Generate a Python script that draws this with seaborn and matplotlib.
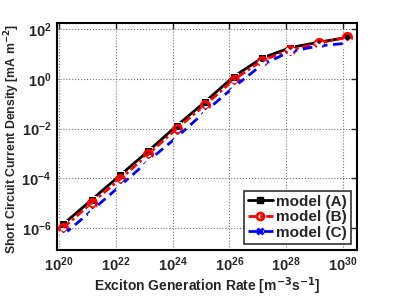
import numpy as np
import pandas as pd
import seaborn as sns
import matplotlib.pyplot as plt
from matplotlib.lines import Line2D

# exciton generation rate [m^-3 s^-1]
gen_rate = [1.4 * 10.0**k for k in range(20, 31)]

# short circuit current density [mA m^-2]
model_a = [1.4e-6, 1.35e-5, 1.3e-4, 1.25e-3, 1.3e-2, 1.2e-1, 1.23, 6.9, 18.2, 30.2, 46.8]
model_b = [1.0e-6, 1.0e-5, 9.1e-5, 9.3e-4, 1.0e-2, 8.9e-2, 0.91, 5.5, 14.8, 27.5, 47.9]
model_c = [5.2e-7, 4.9e-6, 4.9e-5, 5.0e-4, 4.5e-3, 4.8e-2, 0.46, 3.7, 12.6, 21.4, 27.5]

labels = ["model (A)", "model (B)", "model (C)"]

df = pd.concat([
    pd.DataFrame({"rate": gen_rate, "J": v, "model": lab})
    for v, lab in zip([model_a, model_b, model_c], labels)
])

sns.set_style("white")
plt.rcParams['font.family'] = ['Liberation Sans', 'DejaVu Sans']
plt.rcParams['font.weight'] = 'bold'
plt.rcParams['mathtext.default'] = 'bf'

fig = plt.figure(figsize=(3.95, 2.96), dpi=100)
ax = fig.add_axes([0.144, 0.155, 0.760, 0.767])

pal = {"model (A)": "black", "model (B)": "red", "model (C)": "blue"}
dashes = {"model (A)": "", "model (B)": (3, 1.2, 1, 1.2), "model (C)": (3.5, 2)}
markers = {"model (A)": "s", "model (B)": "o", "model (C)": "X"}

sns.lineplot(data=df, x="rate", y="J", hue="model", style="model",
             palette=pal, dashes=dashes, markers=markers, ax=ax,
             linewidth=2, markersize=6, legend=False)

# restyle markers: open red circle, thin cross
for line, lab in zip(ax.lines, labels):
    if lab == "model (B)":
        line.set_markerfacecolor("none")
        line.set_markeredgecolor("red")
        line.set_markeredgewidth(2)
    elif lab == "model (C)":
        line.set_marker("x")
        line.set_markeredgewidth(2)
        line.set_markersize(6)

ax.set_xscale("log")
ax.set_yscale("log")
ax.set_xlim(10**19.92, 10**30.5)
ax.set_ylim(10**-6.9, 10**2.25)
ax.set_xticks([10.0**k for k in range(20, 31, 2)])
ax.set_yticks([10.0**k for k in range(-6, 3, 2)])
ax.minorticks_off()
ax.grid(True, linestyle=":", color="0.45", linewidth=0.8)
ax.tick_params(direction="in", top=True, right=True, length=4, width=1,
               labelsize=10.5, pad=4)
for s in ax.spines.values():
    s.set_linewidth(1.5)
    s.set_color("black")

ax.set_xlabel(r"Exciton Generation Rate [m$^{-3}$s$^{-1}$]", fontsize=10, fontweight="bold", labelpad=1)
ax.set_ylabel(r"Short Circuit Current Density [mA m$^{-2}$]", fontsize=8.8, fontweight="bold")
ax.yaxis.set_label_coords(-0.115, 0.49)

handles = [
    Line2D([], [], color="black", lw=2, marker="s", ms=5),
    Line2D([], [], color="red", lw=2, ls=(0, (3, 1.2, 1, 1.2)), marker="o", ms=5, mfc="none", mew=2),
    Line2D([], [], color="blue", lw=2, ls=(0, (3.5, 2)), marker="x", ms=5, mew=2),
]
leg = ax.legend(handles, labels, loc="lower right", bbox_to_anchor=(0.99, 0.015),
                frameon=True, fancybox=False, fontsize=11, handlelength=1.6,
                handletextpad=0.25, labelspacing=0.1, borderpad=0.25, borderaxespad=0.2)
leg.get_frame().set_edgecolor("black")
leg.get_frame().set_linewidth(1.2)

fig.savefig("out.png", dpi=100)
